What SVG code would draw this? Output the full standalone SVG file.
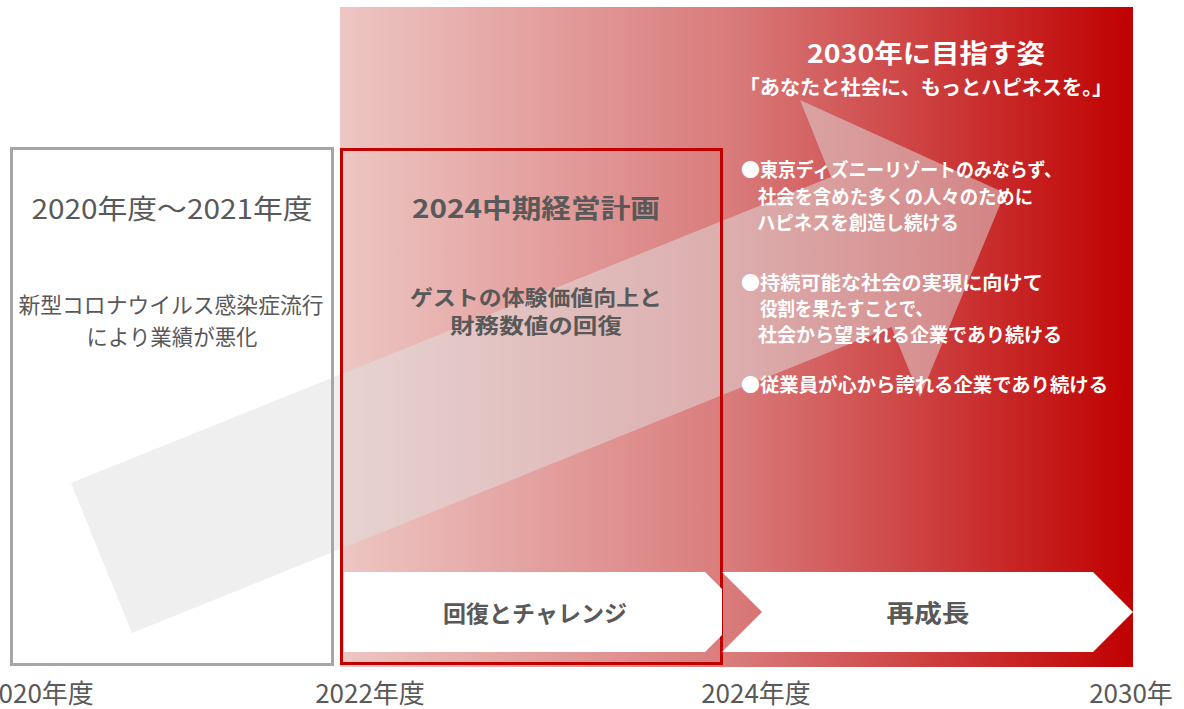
<svg xmlns="http://www.w3.org/2000/svg" width="1184" height="709" viewBox="0 0 1184 709">
  <defs>
    <linearGradient id="redGrad" gradientUnits="userSpaceOnUse" x1="340" y1="0" x2="1133" y2="0">
      <stop offset="0" stop-color="#edc6c3"/>
      <stop offset="0.5" stop-color="#d97a7a"/>
      <stop offset="1" stop-color="#c00000"/>
    </linearGradient>
    <style>
      .gray { fill: #595959; font-family: "Noto Sans CJK JP", "Noto Sans", sans-serif; }
      .white { fill: #ffffff; font-family: "Noto Sans CJK JP", "Noto Sans", sans-serif; font-weight: bold; }
      .bold { font-weight: bold; }
      .mid { text-anchor: middle; }
      .chev { fill: #ffffff; }
    </style>
  </defs>
  <rect width="1184" height="709" fill="#ffffff"/>

  <!-- background panel -->
  <rect id="panel" x="340" y="7" width="793" height="660" fill="url(#redGrad)"/>

  <!-- big arrow -->
  <g id="connectors">
    <polygon points="71,483 831,177 800,100 1005,193 920,397 891.5,327 132,633" fill="#e0e0e0" fill-opacity="0.5"/>
  </g>

  <!-- 2020-2021 box -->
  <g id="phase-2020">
    <rect x="11.5" y="148.5" width="321" height="516" fill="none" stroke="#a6a6a6" stroke-width="3"/>
    <text class="gray mid" x="172" y="219" font-size="27" textLength="281" lengthAdjust="spacingAndGlyphs">2020年度～2021年度</text>
    <text class="gray mid" x="171" y="313" font-size="22" textLength="305" lengthAdjust="spacingAndGlyphs">新型コロナウイルス感染症流行</text>
    <text class="gray mid" x="172" y="345" font-size="22" textLength="171" lengthAdjust="spacingAndGlyphs">により業績が悪化</text>
  </g>

  <!-- 2024 plan box -->
  <g id="plan-2024">
    <rect x="341.5" y="149.5" width="380" height="514" fill="none" stroke="#c00000" stroke-width="3"/>
    <text class="gray bold mid" x="536" y="218" font-size="26" textLength="248" lengthAdjust="spacingAndGlyphs">2024中期経営計画</text>
    <text class="gray bold mid" x="536" y="305" font-size="21" textLength="252" lengthAdjust="spacingAndGlyphs">ゲストの体験価値向上と</text>
    <text class="gray bold mid" x="536" y="333" font-size="21" textLength="172" lengthAdjust="spacingAndGlyphs">財務数値の回復</text>
  </g>

  <!-- 2030 vision -->
  <g id="vision-2030">
    <text class="white mid" x="926" y="63" font-size="26" textLength="238" lengthAdjust="spacingAndGlyphs">2030年に目指す姿</text>
    <text class="white mid" x="926" y="95" font-size="20" textLength="373" lengthAdjust="spacingAndGlyphs">「あなたと社会に、もっとハピネスを。」</text>
    <text class="white" font-size="19">
      <tspan x="741" y="177">●</tspan><tspan x="760" y="177" textLength="302" lengthAdjust="spacingAndGlyphs">東京ディズニーリゾートのみならず、</tspan>
      <tspan x="758" y="204" textLength="275" lengthAdjust="spacingAndGlyphs">社会を含めた多くの人々のために</tspan>
      <tspan x="757" y="230" textLength="202" lengthAdjust="spacingAndGlyphs">ハピネスを創造し続ける</tspan>
      <tspan x="741" y="290">●</tspan><tspan x="760" y="290" textLength="283" lengthAdjust="spacingAndGlyphs">持続可能な社会の実現に向けて</tspan>
      <tspan x="760" y="316" textLength="173" lengthAdjust="spacingAndGlyphs">役割を果たすことで、</tspan>
      <tspan x="758" y="342" textLength="304" lengthAdjust="spacingAndGlyphs">社会から望まれる企業であり続ける</tspan>
      <tspan x="741" y="392">●</tspan><tspan x="760" y="392" textLength="348" lengthAdjust="spacingAndGlyphs">従業員が心から誇れる企業であり続ける</tspan>
    </text>
  </g>

  <!-- phase chevrons -->
  <g id="chevron-recovery">
    <polygon class="chev" points="344,572 705,572 722,589 722,635 705,652 344,652"/>
    <text class="gray bold mid" x="535" y="622" font-size="23" textLength="184" lengthAdjust="spacingAndGlyphs">回復とチャレンジ</text>
  </g>
  <g id="chevron-regrowth">
    <polygon class="chev" points="722,572 1093,572 1133,612 1093,652 722,652 762,612"/>
    <text class="gray bold mid" x="928" y="622" font-size="24" textLength="83" lengthAdjust="spacingAndGlyphs">再成長</text>
  </g>

  <!-- axis labels -->
  <g id="axis">
    <text class="gray mid" x="39" y="703" font-size="26">2020年度</text>
    <text class="gray mid" x="370" y="703" font-size="26">2022年度</text>
    <text class="gray mid" x="756" y="703" font-size="26">2024年度</text>
    <text class="gray mid" x="1131" y="703" font-size="26">2030年</text>
  </g>
</svg>
